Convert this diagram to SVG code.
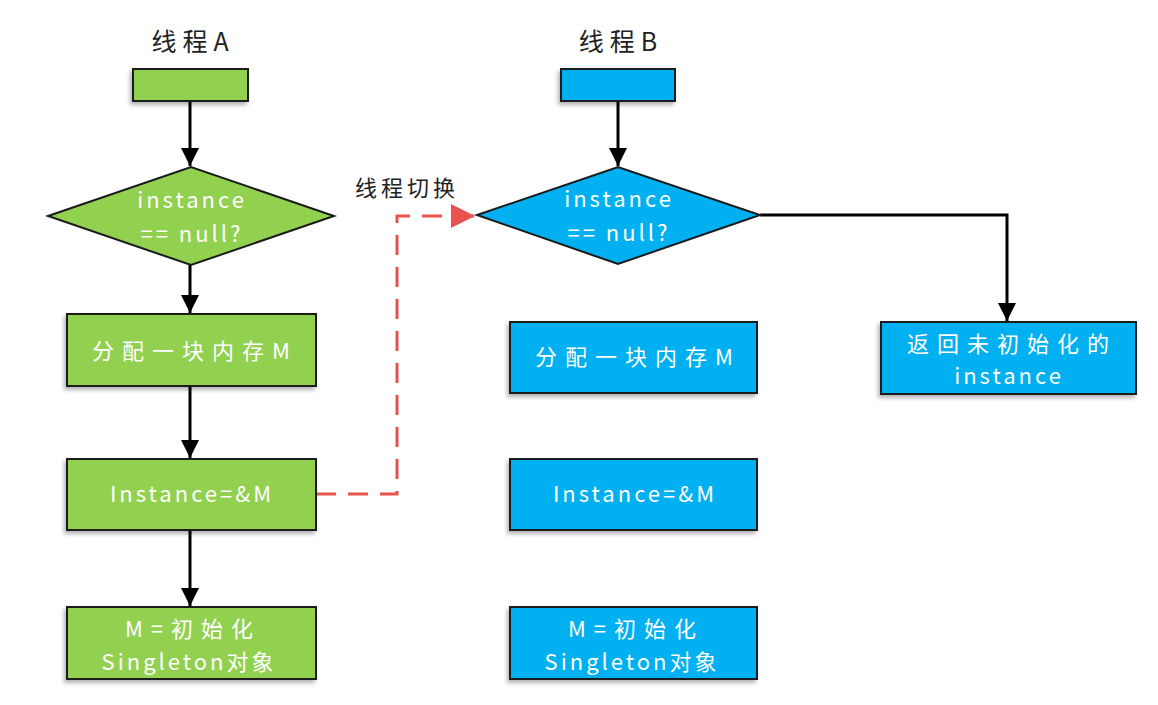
<svg xmlns="http://www.w3.org/2000/svg" width="1158" height="705" viewBox="0 0 1158 705">
<defs>
<style>
.g{fill:#92D050;stroke:#1a1a1a;stroke-width:2}
.b{fill:#00B0F0;stroke:#1a1a1a;stroke-width:2}
.t{fill:#fff;font-family:"Noto Sans CJK SC","Liberation Sans",sans-serif;font-size:22px;text-anchor:middle;letter-spacing:3px}
.z{letter-spacing:8px}
.h{fill:#222;font-family:"Noto Sans CJK SC","Liberation Sans",sans-serif;font-size:25px;text-anchor:middle;letter-spacing:6px}
.c{stroke:#000;stroke-width:3;fill:none}
</style>
<marker id="ah" viewBox="0 0 10 10" refX="10" refY="5" markerWidth="6" markerHeight="6" markerUnits="strokeWidth" orient="auto">
<path d="M0,0L10,5L0,10z" fill="#000"/>
</marker>
<marker id="rh" viewBox="0 0 10 10" refX="10" refY="5" markerWidth="8" markerHeight="8" markerUnits="strokeWidth" orient="auto">
<path d="M0,0L10,5L0,10z" fill="#E8534F"/>
</marker>
<filter id="sh" x="-10%" y="-10%" width="130%" height="140%">
<feDropShadow dx="-2" dy="3" stdDeviation="2" flood-color="#000" flood-opacity="0.3"/>
</filter>
</defs>
<rect width="1158" height="705" fill="#fff"/>
<text class="h" x="193" y="51">线程A</text>
<text class="h" x="621" y="51">线程B</text>
<g id="connectors">
<line class="c" x1="190" y1="101" x2="190" y2="166" marker-end="url(#ah)"/>
<line class="c" x1="190" y1="265" x2="190" y2="313" marker-end="url(#ah)"/>
<line class="c" x1="190" y1="386" x2="190" y2="458" marker-end="url(#ah)"/>
<line class="c" x1="190" y1="530" x2="190" y2="606" marker-end="url(#ah)"/>
<line class="c" x1="618" y1="101" x2="618" y2="166" marker-end="url(#ah)"/>
<polyline class="c" points="760,215 1007,215 1007,321" marker-end="url(#ah)"/>
<polyline points="316,494 397,494 397,216 475,216" fill="none" stroke="#E8534F" stroke-width="3" stroke-dasharray="20,12" marker-end="url(#rh)"/>
<text x="407" y="196" style="fill:#222;font-family:'Noto Sans CJK SC','Liberation Sans',sans-serif;font-size:22px;text-anchor:middle;letter-spacing:4px">线程切换</text>
</g>
<g id="a0"><rect class="g" x="133" y="69" width="115" height="32" filter="url(#sh)"/></g>
<g id="a1"><polygon class="g" points="48,216 191,167 334,216 191,265"/>
<text class="t" x="192" y="208">instance</text><text class="t" x="192" y="242">== null?</text></g>
<g id="a2"><rect class="g" x="67" y="314" width="249" height="72" filter="url(#sh)"/><text class="t z" x="195" y="359">分配一块内存M</text></g>
<g id="a3"><rect class="g" x="67" y="459" width="249" height="71" filter="url(#sh)"/><text class="t" x="192" y="502">Instance=&amp;M</text></g>
<g id="a4"><rect class="g" x="67" y="607" width="249" height="72" filter="url(#sh)"/><text class="t z" x="193" y="637">M=初始化</text><text class="t" x="189" y="670">Singleton对象</text></g>
<g id="b0"><rect class="b" x="561" y="69" width="114" height="32" filter="url(#sh)"/></g>
<g id="b1"><polygon class="b" points="477,215 618,167 760,215 618,264"/>
<text class="t" x="619" y="207">instance</text><text class="t" x="619" y="241">== null?</text></g>
<g id="b2"><rect class="b" x="510" y="322" width="247" height="71" filter="url(#sh)"/><text class="t z" x="638" y="365">分配一块内存M</text></g>
<g id="b3"><rect class="b" x="510" y="459" width="247" height="71" filter="url(#sh)"/><text class="t" x="635" y="502">Instance=&amp;M</text></g>
<g id="b4"><rect class="b" x="510" y="607" width="247" height="72" filter="url(#sh)"/><text class="t z" x="636" y="637">M=初始化</text><text class="t" x="632" y="670">Singleton对象</text></g>
<g id="b5"><rect class="b" x="881" y="322" width="255" height="72" filter="url(#sh)"/><text class="t z" x="1012" y="352">返回未初始化的</text><text class="t" x="1009" y="384">instance</text></g>
</svg>
